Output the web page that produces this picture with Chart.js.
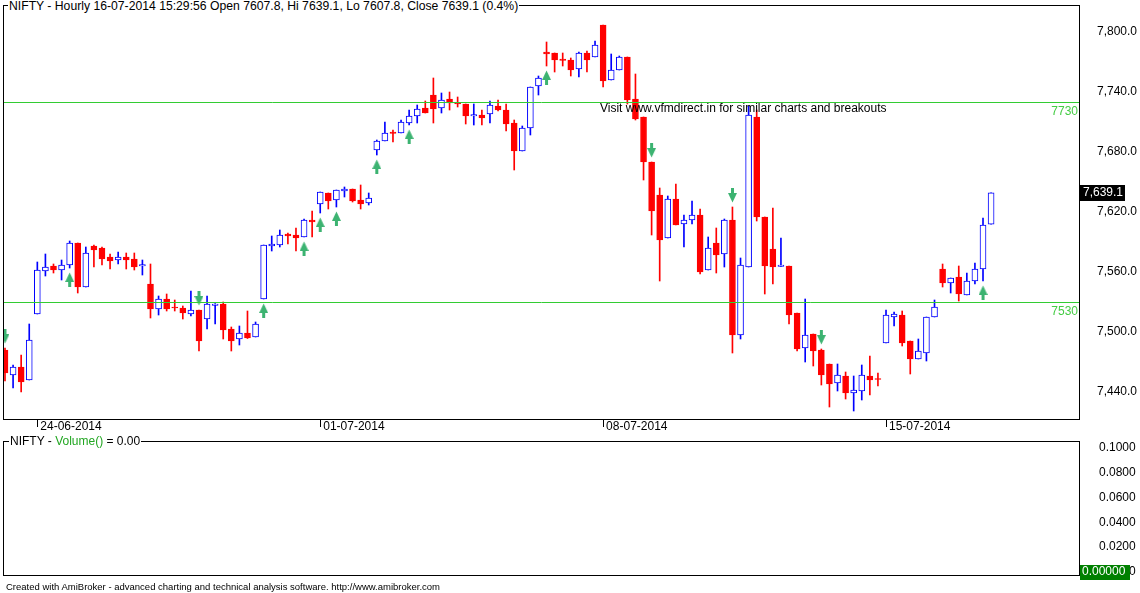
<!DOCTYPE html>
<html>
<head>
<meta charset="utf-8">
<title>NIFTY Hourly</title>
<script src="https://cdn.jsdelivr.net/npm/chart.js@4.4.1/dist/chart.umd.min.js"></script>
<style>
  html, body { margin: 0; padding: 0; background: #fff; }
  body { width: 1140px; height: 593px; position: relative; overflow: hidden;
         font-family: "Liberation Sans", Arial, sans-serif; }
  canvas { position: absolute; left: 0; }
  #priceChart { top: 0; }
  #volChart { top: 436px; }
  .lbl { position: absolute; font-size: 12px; line-height: 14px; white-space: nowrap; color: #000; }
  #title { left: 8px; top: -1px; background: #fff; padding: 0 1px; font-size: 12.2px; }
  #volTitle { left: 9px; top: 434px; background: #fff; padding: 0 1px; }
  #volTitle span { color: #22a622; }
  #visit { left: 600px; top: 101px; }
  #footer { left: 6px; top: 581px; font-size: 9.5px; line-height: 12px; }
</style>
</head>
<body>
<canvas id="priceChart" width="1140" height="436"></canvas>
<canvas id="volChart" width="1140" height="157"></canvas>
<div class="lbl" id="title">NIFTY - Hourly 16-07-2014 15:29:56 Open 7607.8, Hi 7639.1, Lo 7607.8, Close 7639.1 (0.4%)</div>
<div class="lbl" id="visit">Visit www.vfmdirect.in for similar charts and breakouts</div>
<div class="lbl" id="volTitle">NIFTY - <span>Volume()</span> = 0.00</div>
<div class="lbl" id="footer">Created with AmiBroker - advanced charting and technical analysis software. http://www.amibroker.com</div>

<script>
// hourly bars, 23-06-2014 (last 4 hours) to 16-07-2014
const open = [
  7482, 7457, 7465, 7452, 7518, 7561, 7566, 7562, 7567, 7589,
  7545, 7586, 7584, 7575, 7572, 7575, 7573, 7566, 7548, 7523,
  7533, 7525, 7524, 7518, 7522, 7513, 7526.5, 7528, 7503, 7493,
  7499, 7495, 7533, 7586, 7587, 7598, 7597, 7595, 7612, 7628,
  7639, 7632, 7641, 7643, 7632, 7629, 7682, 7691, 7700, 7699,
  7709, 7716, 7724, 7737, 7724, 7733, 7729, 7728, 7716, 7717,
  7718, 7726, 7722, 7709, 7681, 7704, 7746, 7780, 7779, 7773,
  7772, 7763, 7779, 7775, 7807, 7752, 7762, 7775, 7733, 7715,
  7670, 7637, 7594, 7633, 7608, 7612, 7617, 7562, 7589, 7578,
  7612, 7497, 7565, 7715, 7615, 7583, 7565.5, 7566, 7519, 7484,
  7498, 7482, 7468, 7449, 7456, 7439, 7441, 7456, 7453.5, 7489,
  7515, 7517, 7491, 7473, 7479, 7515, 7563, 7549, 7555, 7537,
  7551, 7563, 7607.8
];
const high = [
  7484, 7467, 7477, 7508, 7570, 7578, 7568, 7572, 7591, 7589,
  7585, 7587, 7585, 7578, 7580, 7579, 7579, 7572, 7568, 7536,
  7538, 7532, 7526, 7541, 7522, 7536, 7528.5, 7530, 7505, 7506,
  7521, 7510, 7587, 7596, 7602, 7599, 7604, 7613, 7621, 7640,
  7639, 7642, 7645, 7643, 7647, 7639, 7692, 7710, 7702, 7712,
  7722, 7727, 7731, 7754, 7739, 7740, 7735, 7728, 7728, 7722,
  7731, 7732, 7728, 7712, 7706, 7745, 7756, 7790, 7779, 7779,
  7774, 7780, 7781, 7791, 7807, 7778, 7776, 7775, 7758, 7715,
  7670, 7644, 7636, 7648, 7617, 7631, 7623, 7595, 7604, 7613,
  7625, 7574, 7726, 7722, 7615, 7624, 7594, 7566, 7519, 7533,
  7498, 7483, 7468, 7468, 7460, 7456, 7467, 7476, 7459, 7522,
  7520, 7521, 7491, 7493, 7515, 7532, 7568, 7554, 7566, 7559,
  7569, 7614, 7639.1
];
const low = [
  7451, 7444, 7440, 7452, 7518, 7556, 7559, 7552, 7564, 7539,
  7545, 7565, 7567, 7563, 7568, 7563, 7562, 7557, 7514, 7517,
  7521, 7521, 7513, 7516, 7481, 7503, 7508, 7493, 7481, 7487,
  7493.5, 7495, 7533, 7581, 7585, 7588, 7581, 7595, 7595, 7619,
  7623, 7625, 7635, 7630, 7623, 7627, 7677, 7691, 7690, 7699,
  7707, 7709, 7719, 7709, 7719, 7722, 7725, 7708, 7707, 7707,
  7709, 7721, 7701, 7662, 7681, 7697, 7737, 7766, 7760, 7766,
  7756, 7755, 7760, 7775, 7745, 7752, 7762, 7728, 7712, 7652,
  7597, 7551, 7594, 7607, 7585, 7608, 7558, 7562, 7559, 7565,
  7479, 7493, 7565, 7611, 7538, 7548, 7565.5, 7508, 7481, 7470,
  7466, 7447, 7425, 7441, 7433, 7421, 7432, 7437, 7446, 7489,
  7506, 7486, 7458, 7473, 7471, 7515, 7545, 7539, 7531, 7537,
  7548, 7551, 7607.8
];
const close = [
  7459, 7465, 7450, 7492, 7562, 7565, 7562, 7567, 7589, 7545,
  7579, 7582, 7573, 7571, 7575, 7572, 7565, 7567.5, 7523, 7533,
  7523, 7524, 7519, 7522, 7491, 7528, 7528, 7502, 7491, 7499,
  7494, 7508, 7587, 7588, 7597, 7596, 7594, 7612, 7610, 7640,
  7631, 7642, 7643, 7631, 7628, 7634, 7691, 7699, 7698.5, 7710,
  7716, 7723, 7719, 7723, 7732, 7729, 7728, 7716, 7717.5, 7714,
  7727, 7722, 7708, 7681, 7704, 7745, 7754, 7778, 7772, 7771.5,
  7762, 7779, 7772, 7787, 7751, 7762, 7775, 7732, 7713, 7670,
  7621, 7592, 7633, 7607, 7612, 7617, 7560, 7584, 7577, 7612,
  7497, 7567, 7717, 7615, 7566, 7565, 7567, 7517, 7483, 7497,
  7481, 7457, 7448, 7457, 7439, 7442, 7457, 7452, 7452.5, 7517,
  7518, 7489, 7473, 7481, 7515, 7525, 7549, 7554, 7538, 7551,
  7563, 7607, 7639.1
];

const buyBars = [8, 32, 37, 39, 41, 46, 50, 67, 121];
const sellBars = [0, 24, 80, 90, 101];
const levels = [7730, 7530];
const priceTicks = [7440, 7500, 7560, 7620, 7680, 7740, 7800];
const dateTickBars = [4, 39, 74, 109];
const dateTickLabels = ['24-06-2014', '01-07-2014', '08-07-2014', '15-07-2014'];
const volTicks = [0, 0.02, 0.04, 0.06, 0.08, 0.1];

const UP = '#0000ff';
const DOWN = '#ff0000';
const ARROW = '#3cb371';
const LEVEL = '#33cc33';
const FONT = '"Liberation Sans", Arial, sans-serif';

Chart.defaults.font.family = FONT;
Chart.defaults.font.size = 12;
Chart.defaults.color = '#000';

const X_MIN = -0.247, X_MAX = 133.0;
const isUp = i => close[i] >= open[i];
const barIdx = close.map((_, i) => i);

// scales must not push the plot area in: the frame sits at fixed spots
const noPadY = s => { s.width = 60; s.paddingTop = 0; s.paddingBottom = 0; };

// small green arrow used as a point image, offset away from the bar
function makeArrow(up) {
  const c = document.createElement('canvas');
  c.width = 9; c.height = 38;
  const g = c.getContext('2d');
  g.fillStyle = ARROW;
  if (!up) { g.translate(0, 38); g.scale(1, -1); }
  g.beginPath();
  g.moveTo(4.5, 23.5); g.lineTo(9, 33); g.lineTo(0, 33); g.closePath();
  g.fill();
  g.fillRect(3, 33, 3, 5);
  return c;
}

const priceOverlay = {
  id: 'priceOverlay',
  afterDatasetsDraw(chart) {
    const { ctx, chartArea: a, scales: { y } } = chart;
    ctx.save();
    ctx.strokeStyle = LEVEL;
    ctx.lineWidth = 1;
    ctx.font = '12px ' + FONT;
    ctx.fillStyle = '#44cc44';
    ctx.textAlign = 'right';
    ctx.textBaseline = 'middle';
    levels.forEach(v => {
      const py = Math.round(y.getPixelForValue(v)) + 0.5;
      ctx.beginPath();
      ctx.moveTo(a.left, py);
      ctx.lineTo(a.right, py);
      ctx.stroke();
      ctx.fillText(String(v), a.right - 2, py + 9);
    });
    ctx.restore();
  },
  afterDraw(chart) {
    const { ctx, chartArea: a, scales: { y } } = chart;
    ctx.save();
    ctx.strokeStyle = '#000';
    ctx.lineWidth = 1;
    ctx.strokeRect(a.left + 0.5, a.top + 0.5, a.width - 1, a.height - 1);
    // last price marker
    const last = close[close.length - 1];
    const py = Math.round(y.getPixelForValue(last));
    ctx.fillStyle = '#000';
    ctx.fillRect(a.right, py - 8, 45, 16);
    ctx.fillStyle = '#fff';
    ctx.font = '12px ' + FONT;
    ctx.textAlign = 'left';
    ctx.textBaseline = 'middle';
    ctx.fillText(last.toLocaleString('en-US', { minimumFractionDigits: 1 }), a.right + 3, py);
    ctx.restore();
  }
};

new Chart(document.getElementById('priceChart'), {
  type: 'bar',
  data: {
    datasets: [
      {
        type: 'scatter',
        data: buyBars.map(i => ({ x: i, y: low[i] })),
        pointStyle: makeArrow(true),
        order: 0
      },
      {
        type: 'scatter',
        data: sellBars.map(i => ({ x: i, y: high[i] })),
        pointStyle: makeArrow(false),
        order: 0
      },
      {
        data: barIdx.map(i => ({ x: i, y: [open[i], close[i]] })),
        backgroundColor: c => isUp(c.dataIndex) ? '#fff' : DOWN,
        borderColor: c => isUp(c.dataIndex) ? UP : DOWN,
        borderWidth: 1,
        borderSkipped: false,
        barThickness: 6,
        grouped: false,
        order: 1
      },
      {
        data: barIdx.map(i => ({ x: i, y: [low[i], high[i]] })),
        backgroundColor: c => isUp(c.dataIndex) ? UP : DOWN,
        borderWidth: 0,
        barThickness: 1,
        grouped: false,
        order: 2
      }
    ]
  },
  options: {
    responsive: false,
    animation: false,
    events: [],
    layout: { autoPadding: false, padding: { left: 3, top: 5, right: 0, bottom: 0 } },
    plugins: { legend: { display: false }, tooltip: { enabled: false } },
    scales: {
      x: {
        type: 'linear',
        min: X_MIN,
        max: X_MAX,
        offset: false,
        grid: { drawOnChartArea: false, drawTicks: true, tickLength: 7, color: '#000', offset: false },
        border: { display: false },
        afterBuildTicks: s => { s.ticks = dateTickBars.map(v => ({ value: v })); },
        afterFit: s => { s.height = 16; s.paddingLeft = 0; s.paddingRight = 0; },
        ticks: {
          autoSkip: false,
          maxRotation: 0,
          minRotation: 0,
          align: 'start',
          labelOffset: 3,
          padding: -8,
          callback: (v, i) => dateTickLabels[i]
        }
      },
      y: {
        position: 'right',
        min: 7412,
        max: 7827,
        grid: { display: false, drawTicks: false },
        border: { display: false },
        afterBuildTicks: s => { s.ticks = priceTicks.map(v => ({ value: v })); },
        afterFit: noPadY,
        ticks: {
          padding: 17,
          callback: v => v.toLocaleString('en-US', { minimumFractionDigits: 1 })
        }
      }
    }
  },
  plugins: [priceOverlay]
});

const volOverlay = {
  id: 'volOverlay',
  afterDraw(chart) {
    const { ctx, chartArea: a, scales: { y } } = chart;
    ctx.save();
    ctx.strokeStyle = '#000';
    ctx.lineWidth = 1;
    ctx.strokeRect(a.left + 0.5, a.top + 0.5, a.width - 1, a.height - 1);
    const py = Math.round(y.getPixelForValue(0));
    ctx.fillStyle = '#008000';
    ctx.fillRect(a.right, py - 7, 50, 15);
    ctx.fillStyle = '#fff';
    ctx.font = '12px ' + FONT;
    ctx.textAlign = 'left';
    ctx.textBaseline = 'middle';
    ctx.fillText('0.00000', a.right + 2, py);
    ctx.restore();
  }
};

new Chart(document.getElementById('volChart'), {
  type: 'bar',
  data: { datasets: [{ data: [] }] },
  options: {
    responsive: false,
    animation: false,
    events: [],
    layout: { autoPadding: false, padding: { left: 3, top: 5, right: 0, bottom: 17 } },
    plugins: { legend: { display: false }, tooltip: { enabled: false } },
    scales: {
      x: { type: 'linear', display: false, min: X_MIN, max: X_MAX },
      y: {
        position: 'right',
        min: -0.0032,
        max: 0.1052,
        grid: { display: false, drawTicks: false },
        border: { display: false },
        afterBuildTicks: s => { s.ticks = volTicks.map(v => ({ value: v })); },
        afterFit: noPadY,
        ticks: { padding: 19, callback: v => v.toFixed(4) }
      }
    }
  },
  plugins: [volOverlay]
});
</script>
</body>
</html>
